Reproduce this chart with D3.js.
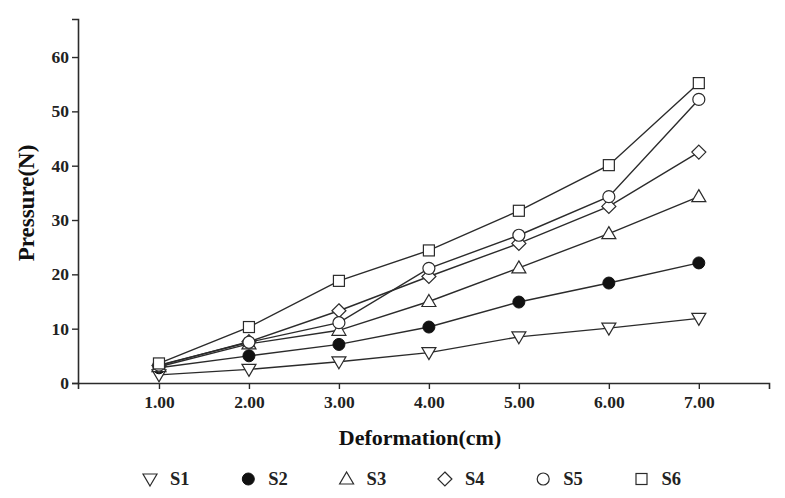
<!DOCTYPE html>
<html><head><meta charset="utf-8">
<script src="https://cdn.jsdelivr.net/npm/d3@7"></script>
<style>body{margin:0;background:#fff}svg{display:block}</style>
</head><body><svg id="c" width="785" height="498"></svg>
<script>
const deformation = [1, 2, 3, 4, 5, 6, 7];
const xTicks = [1, 2, 3, 4, 5, 6, 7];
const yTicks = [0, 10, 20, 30, 40, 50, 60];
const seriesNames = ["S1", "S2", "S3", "S4", "S5", "S6"];
const S1 = [1.5, 2.5, 3.9, 5.6, 8.5, 10.1, 11.9];
const S2 = [2.8, 5.0, 7.1, 10.3, 14.9, 18.4, 22.1];
const S3 = [3.0, 7.2, 9.7, 15.0, 21.2, 27.5, 34.3];
const S4 = [3.2, 7.6, 13.3, 19.6, 25.7, 32.5, 42.5];
const S5 = [3.3, 7.5, 11.1, 21.1, 27.2, 34.3, 52.2];
const S6 = [3.6, 10.3, 18.8, 24.4, 31.7, 40.1, 55.2];
const seriesValues = [S1, S2, S3, S4, S5, S6];
const markers = ["tridown", "dot", "triup", "diamond", "circle", "square"];

const svg = d3.select("#c");
const x = d3.scaleLinear().domain([0.1, 7.78]).range([78, 769]);
const y = d3.scaleLinear().domain([0, 67]).range([383, 19]);
const ink = "#2b2b2b";
const serif = "'Liberation Serif','Times New Roman',serif";

// axes
const xAxis = svg.append("g").attr("transform", `translate(0,${y(0)})`)
  .call(d3.axisBottom(x).tickValues(xTicks).tickFormat(d3.format(".2f")).tickSizeOuter(0).tickSize(6).tickPadding(7));
const yAxis = svg.append("g").attr("transform", `translate(${x(0.1)},0)`)
  .call(d3.axisLeft(y).tickValues(yTicks).tickFormat(d3.format("d")).tickSizeOuter(0).tickSize(6).tickPadding(3));
[xAxis, yAxis].forEach(g => {
  g.select(".domain").attr("stroke", ink).attr("stroke-width", 1.6);
  g.selectAll(".tick line").attr("stroke", ink).attr("stroke-width", 1.4);
  g.selectAll(".tick text").attr("fill", "#222").style("font-family", serif)
   .style("font-size", "17.5px").style("font-weight", "bold");
});

svg.append("text").attr("x", 420).attr("y", 445).attr("text-anchor", "middle")
  .style("font-family", serif).style("font-size", "22px").style("font-weight", "bold").attr("fill", "#111")
  .text("Deformation(cm)");
svg.append("text").attr("transform", "translate(34,203) rotate(-90)").attr("text-anchor", "middle")
  .style("font-family", serif).style("font-size", "23px").style("font-weight", "bold").attr("fill", "#111")
  .text("Pressure(N)");

function drawMarker(g, type, cx, cy) {
  const sw = 1.2;
  if (type === "dot") {
    g.append("circle").attr("cx", cx).attr("cy", cy).attr("r", 6).attr("fill", "#111").attr("stroke", "#111");
  } else if (type === "circle") {
    g.append("circle").attr("cx", cx).attr("cy", cy).attr("r", 6).attr("fill", "#fff").attr("stroke", ink).attr("stroke-width", sw);
  } else if (type === "square") {
    g.append("rect").attr("x", cx - 5.5).attr("y", cy - 5.5).attr("width", 11).attr("height", 11).attr("fill", "#fff").attr("stroke", ink).attr("stroke-width", sw);
  } else if (type === "diamond") {
    g.append("path").attr("d", `M${cx},${cy-7}L${cx+7},${cy}L${cx},${cy+7}L${cx-7},${cy}Z`).attr("fill", "#fff").attr("stroke", ink).attr("stroke-width", sw);
  } else if (type === "triup") {
    g.append("path").attr("d", `M${cx},${cy-7}L${cx+7},${cy+5}L${cx-7},${cy+5}Z`).attr("fill", "#fff").attr("stroke", ink).attr("stroke-width", sw);
  } else if (type === "tridown") {
    g.append("path").attr("d", `M${cx},${cy+7}L${cx+7},${cy-5}L${cx-7},${cy-5}Z`).attr("fill", "#fff").attr("stroke", ink).attr("stroke-width", sw);
  }
}

const line = d3.line().x((d, i) => x(deformation[i])).y(d => y(d));
const plot = svg.append("g");
seriesValues.forEach(vals => {
  plot.append("path").attr("d", line(vals)).attr("fill", "none").attr("stroke", ink).attr("stroke-width", 1.4);
});
seriesValues.forEach((vals, s) => {
  vals.forEach((v, i) => drawMarker(plot, markers[s], x(deformation[i]), y(v)));
});

// legend
const leg = svg.append("g");
seriesNames.forEach((name, s) => {
  const lx = 150 + s * 98.3;
  drawMarker(leg, markers[s], lx, 479);
  leg.append("text").attr("x", lx + 20).attr("y", 485).style("font-family", serif)
    .style("font-size", "18.5px").style("font-weight", "bold").attr("fill", "#222").text(name);
});
</script></body></html>
